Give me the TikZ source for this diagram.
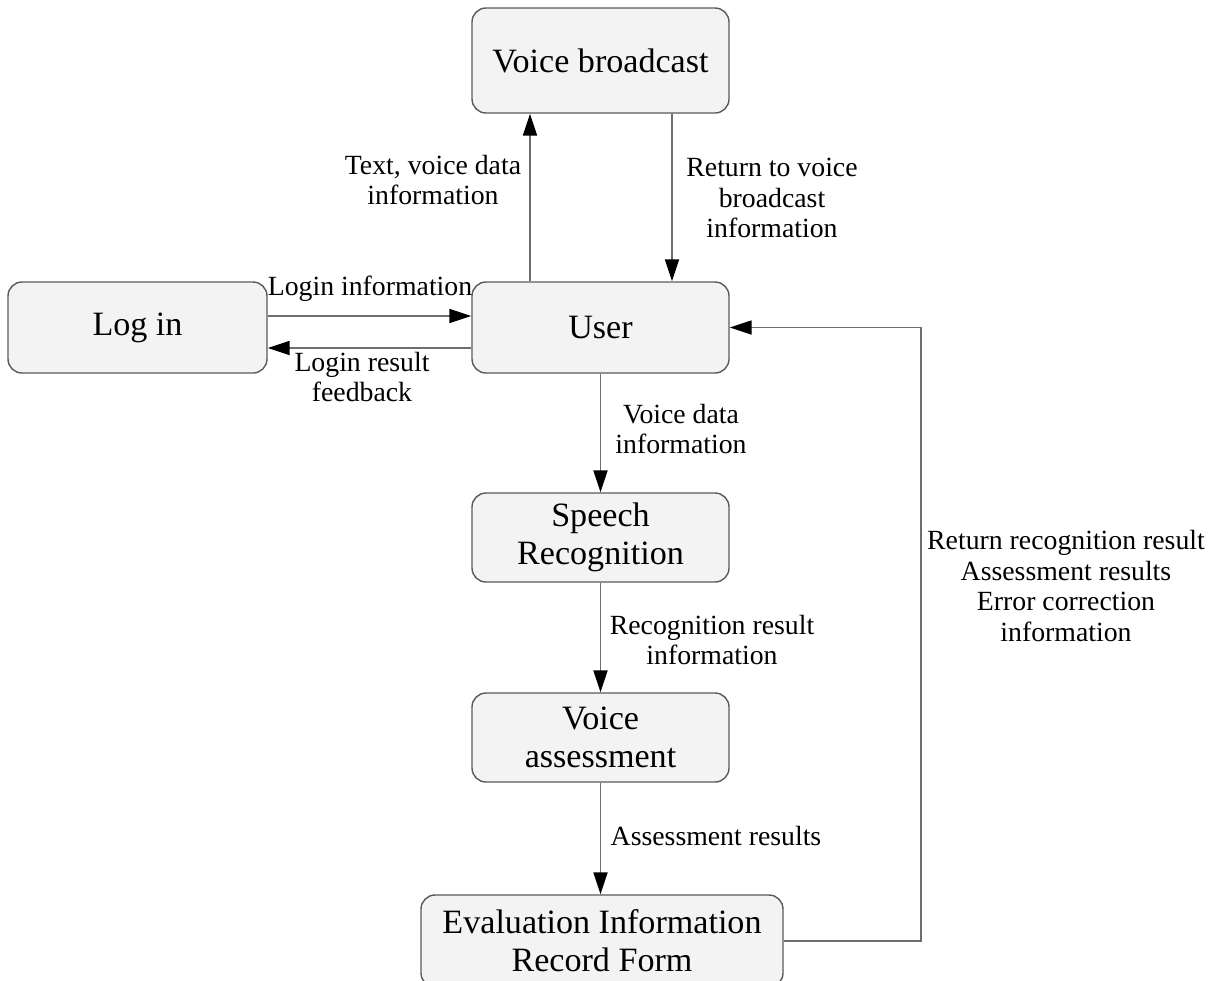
\documentclass[tikz,border=0pt]{standalone}
\usepackage{fontspec}
\setmainfont{Liberation Serif}
\usepackage{xcolor}
\usepackage{tikz}
\usetikzlibrary{arrows.meta, positioning, calc}

\definecolor{boxfill}{HTML}{F3F3F3}
\definecolor{boxline}{HTML}{5A5A5A}
\definecolor{flowline}{HTML}{6E6E6E}

\tikzset{
  box/.style={draw=boxline, fill=boxfill, rounded corners=0.14cm, align=center,
    minimum width=2.57cm, minimum height=0.89cm, inner sep=0pt,
    font=\fontsize{9.7}{10.8}\selectfont},
  flow/.style={draw=flowline, line width=0.5pt,
    -{Triangle[length=0.22cm, width=0.14cm, color=black]}},
  lbl/.style={font=\fontsize{7.9}{8.8}\selectfont, align=center, inner sep=0pt}
}

\begin{document}
\begin{tikzpicture}
\useasboundingbox (0,0) rectangle (12.13,9.80);
% boxes
\node[box, minimum height=1.05cm] (bcast) at (6.005,9.195) {Voice broadcast};
\node[box, minimum height=0.91cm] (user) at (6.005,6.525) {User};
\node[box, minimum width=2.59cm, minimum height=0.91cm] (login) at (1.375,6.525) {Log in};
\node[box] (speech) at (6.005,4.425) {Speech\\Recognition};
\node[box] (assess) at (6.005,2.425) {Voice\\assessment};
\node[box, minimum width=3.62cm, minimum height=0.92cm] (evalform) at (6.02,0.39) {Evaluation Information\\Record Form};
% connectors
\draw[flow] ([xshift=-0.705cm]user.north) -- ([xshift=-0.705cm]bcast.south);
\draw[flow] ([xshift=0.715cm]bcast.south) -- ([xshift=0.715cm]user.north);
\draw[flow] ([yshift=0.115cm]login.east) -- ([yshift=0.115cm]user.west);
\draw[flow] ([yshift=-0.205cm]user.west) -- ([yshift=-0.205cm]login.east);
\draw[flow] (user) -- (speech);
\draw[flow] (speech) -- (assess);
\draw[flow] (assess) -- (assess |- evalform.north);
\draw[flow] (evalform.east) -- ++(1.37,0) |- (user.east);
% labels
\node[lbl] (txtinfo) at (4.33,8.00) {Text, voice data\\information};
\node[lbl] (retinfo) at (7.72,7.82) {Return to voice\\broadcast\\information};
\node[lbl] (logininfo) at (3.70,6.91) {Login information};
\node[lbl] (loginres) at (3.62,6.03) {Login result\\feedback};
\node[lbl] (vdinfo) at (6.81,5.51) {Voice data\\information};
\node[lbl] (recinfo) at (7.12,3.40) {Recognition result\\information};
\node[lbl] (assessres) at (7.16,1.44) {Assessment results};
\node[lbl] (backinfo) at (10.66,3.94) {Return recognition result\\Assessment results\\Error correction\\information};
\end{tikzpicture}
\end{document}
